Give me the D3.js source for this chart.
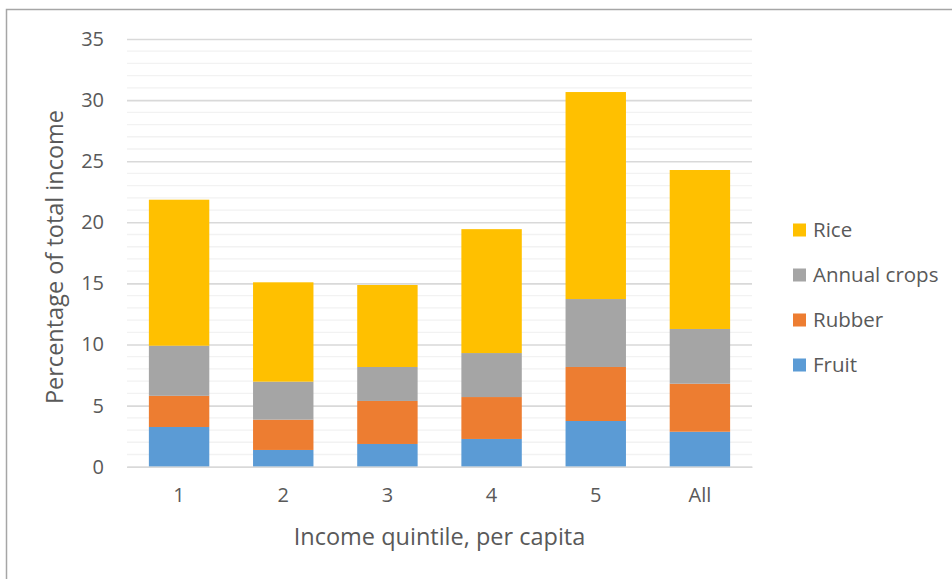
<!DOCTYPE html>
<html><head><meta charset="utf-8">
<script src="https://d3js.org/d3.v7.min.js"></script>
<style>body{margin:0;background:#fff}svg{display:block}</style>
</head><body>
<script>
const categories = ["1","2","3","4","5","All"];
const seriesNames = ["Fruit","Rubber","Annual crops","Rice"];
const fruit = [3.25,1.37,1.86,2.27,3.74,2.86];
const rubber = [2.55,2.48,3.52,3.43,4.42,3.93];
const annualCrops = [4.10,3.11,2.78,3.60,5.56,4.48];
const rice = [11.95,8.13,6.71,10.14,16.94,13.01];
const yTicks = [0,5,10,15,20,25,30,35];
const colors = ["#5B9BD5","#ED7D31","#A5A5A5","#FFC000"];

const W=952,H=579;
const svg=d3.select("body").append("svg").attr("width",W).attr("height",H);
const font="'Open Sans', sans-serif";

// frame
svg.append("path").attr("d","M6.5,"+H+" V9.5 H"+W).attr("fill","none").attr("stroke","#a6a6a6").attr("stroke-width",1.5);

const x=d3.scaleBand().domain(categories).range([127,752]).paddingInner(0.42).paddingOuter(0.21);
const y=d3.scaleLinear().domain([0,35]).range([466.7,39]);

// minor grid
const minor=d3.range(0,36,1).filter(v=>v%5!==0);
svg.append("g").selectAll("line").data(minor).join("line")
 .attr("x1",127).attr("x2",752).attr("y1",d=>y(d)).attr("y2",d=>y(d))
 .attr("stroke","#f2f2f2").attr("stroke-width",1.3);
// major grid via axis
const gy=svg.append("g").attr("transform","translate(127,0)")
 .call(d3.axisLeft(y).tickValues(yTicks).tickSize(-625).tickPadding(23));
gy.select(".domain").remove();
gy.selectAll(".tick line").attr("stroke","#d9d9d9").attr("stroke-width",1.6);
gy.selectAll(".tick text").attr("fill","#595959").style("font-family",font).style("font-size","20px");

// stacks
const rows=categories.map((c,i)=>({cat:c,"Fruit":fruit[i],"Rubber":rubber[i],"Annual crops":annualCrops[i],"Rice":rice[i]}));
const stack=d3.stack().keys(seriesNames)(rows);
svg.append("g").selectAll("g").data(stack).join("g").attr("fill",(d,i)=>colors[i])
 .selectAll("rect").data(d=>d).join("rect")
 .attr("x",d=>x(d.data.cat)).attr("width",x.bandwidth())
 .attr("y",d=>y(d[1])).attr("height",d=>y(d[0])-y(d[1]));

// x axis
const gx=svg.append("g").attr("transform","translate(0,"+y(0)+")")
 .call(d3.axisBottom(x).tickSize(0).tickPadding(21));
gx.select(".domain").attr("stroke","#d9d9d9").attr("stroke-width",1.6);
gx.selectAll(".tick text").attr("fill","#595959").style("font-family",font).style("font-size","20px");

// axis titles
svg.append("text").attr("x",439.5).attr("y",545).attr("text-anchor","middle")
 .attr("fill","#595959").style("font-family",font).style("font-size","23.5px").text("Income quintile, per capita");
svg.append("text").attr("transform","translate(63,257) rotate(-90)").attr("text-anchor","middle")
 .attr("fill","#595959").style("font-family",font).style("font-size","23.5px").text("Percentage of total income");

// legend
const legendOrder=[3,2,1,0];
const lg=svg.append("g").selectAll("g").data(legendOrder).join("g")
 .attr("transform",(d,i)=>"translate(793,"+(230+i*45)+")");
lg.append("rect").attr("x",0).attr("y",-6.5).attr("width",13).attr("height",13).attr("fill",d=>colors[d]);
lg.append("text").attr("x",20).attr("y",0).attr("dy","0.35em").attr("fill","#595959")
 .style("font-family",font).style("font-size","20.5px").text(d=>seriesNames[d]);
</script>
</body></html>
